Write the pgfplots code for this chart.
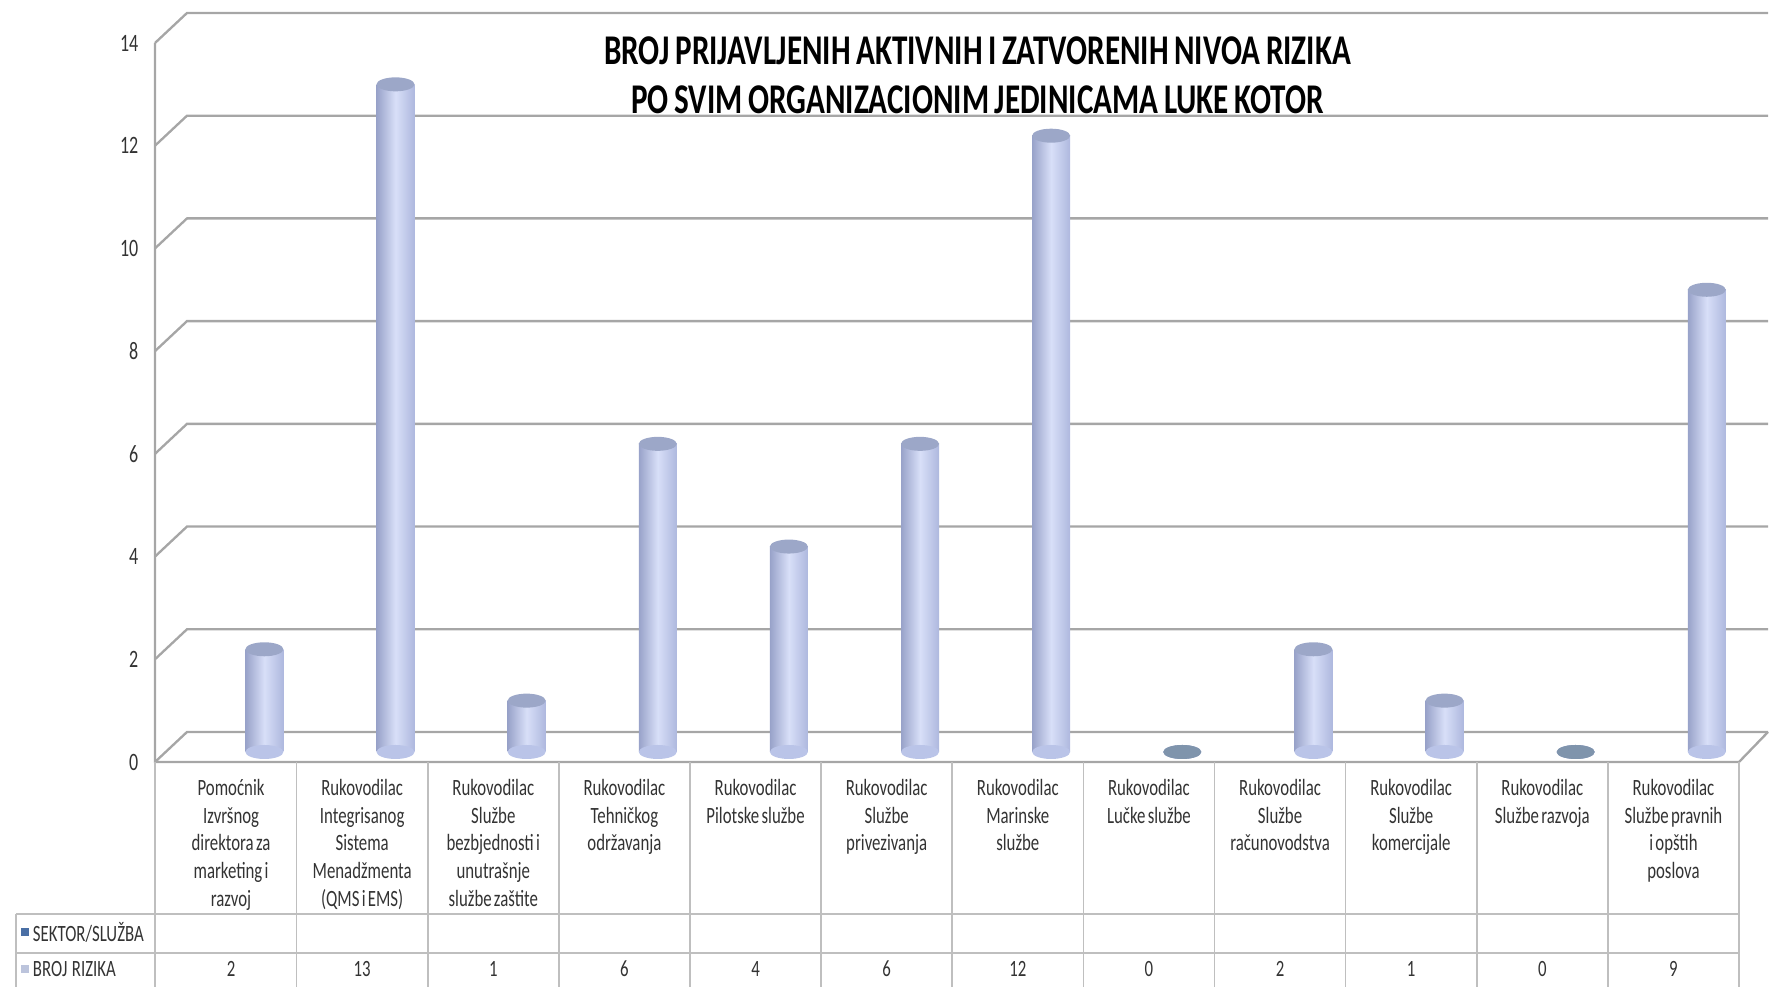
\documentclass[border=0pt]{standalone}
\usepackage{fontspec}
\setmainfont{Carlito}[FakeStretch=0.72, WordSpace=0.6]
\newfontfamily\titlefont{Carlito}[FakeStretch=0.735, WordSpace=0.8]
\usepackage{pgfplots}
\pgfplotsset{compat=1.18}
\usepackage{pgfplotstable}

\definecolor{gridgray}{HTML}{A6A6A6}
\definecolor{tablegray}{HTML}{BFBFBF}
\definecolor{cylleft}{HTML}{98A2C9}
\definecolor{cylmid}{HTML}{D8DFF8}
\definecolor{cylright}{HTML}{AEB8DE}
\definecolor{cyltopc}{HTML}{9CA7C8}
\definecolor{cylbase}{HTML}{BAC4E8}
\definecolor{zerotop}{HTML}{7F94AC}
\definecolor{serdark}{HTML}{4A6FA5}
\definecolor{serlight}{HTML}{BCC4DC}

% cylinder caps
\pgfdeclareplotmark{cyltop}{\pgfpathellipse{\pgfpointorigin}{\pgfqpoint{5.7pt}{0pt}}{\pgfqpoint{0pt}{2.1pt}}\pgfusepathqfill}
\pgfdeclareplotmark{cylbot}{\pgfpathellipse{\pgfpointorigin}{\pgfqpoint{5.7pt}{0pt}}{\pgfqpoint{0pt}{2.1pt}}\pgfusepathqfill}

\pgfplotstableread{
x y
0 2
1 13
2 1
3 6
4 4
5 6
6 12
7 0
8 2
9 1
10 0
11 9
}\rizici

\begin{document}
\begin{tikzpicture}
\begin{axis}[
  scale only axis, width=475.2pt, height=215.7pt,
  xmin=-0.58, xmax=11.5, ymin=0, ymax=14,
  clip=false,
  axis line style={draw=none},
  major tick length=0pt,
  ytick={0,2,...,14},
  xtick={0,...,11},
  xticklabels={
    {Pomoćnik\\Izvršnog\\direktora za\\marketing i\\razvoj},
    {Rukovodilac\\Integrisanog\\Sistema\\Menadžmenta\\(QMS i EMS)},
    {Rukovodilac\\Službe\\bezbjednosti i\\unutrašnje\\službe zaštite},
    {Rukovodilac\\Tehničkog\\održavanja},
    {Rukovodilac\\Pilotske službe},
    {Rukovodilac\\Službe\\privezivanja},
    {Rukovodilac\\Marinske\\službe},
    {Rukovodilac\\Lučke službe},
    {Rukovodilac\\Službe\\računovodstva},
    {Rukovodilac\\Službe\\komercijale},
    {Rukovodilac\\Službe razvoja},
    {Rukovodilac\\Službe pravnih\\i opštih\\poslova}},
  /pgf/number format/assume math mode=true,
  yticklabel style={font=\fontsize{7.5}{8}\selectfont, text=black!80, anchor=east, inner sep=0pt, xshift=-4.8pt},
  xticklabel style={font=\fontsize{7}{8.3}\selectfont, text=black!80, text width=38pt, align=flush center, anchor=north, inner sep=0pt, yshift=-5pt},
  extra x ticks={0,...,11},
  extra x tick labels={2,13,1,6,4,6,12,0,2,1,0,9},
  extra x tick style={xticklabel style={anchor=center, yshift=-57.1pt}},
  every axis plot/.append style={xshift=10pt, yshift=3pt},
]
% back wall and floor
\pgfplotsinvokeforeach{0,2,...,14}{
  \draw[gridgray, line width=0.7pt] (axis cs:-0.58,#1) -- ++(9.6pt,9pt) -- ([xshift=8.7pt,yshift=9pt]axis cs:11.5,#1);
}
\draw[gridgray, line width=0.7pt] (axis cs:-0.58,14) -- (axis cs:-0.58,0) -- (axis cs:11.5,0) -- ++(8.7pt,9pt);

% data table
\pgfplotsinvokeforeach{-0.58,0.5,1.5,...,11.5}{
  \draw[tablegray, line width=0.5pt] (axis cs:#1,0) -- ++(0pt,-67.5pt);
}
\draw[tablegray, line width=0.5pt] ([xshift=-41.7pt,yshift=-45.6pt]axis cs:-0.58,0) -- ([yshift=-45.6pt]axis cs:11.5,0);
\draw[tablegray, line width=0.5pt] ([xshift=-41.7pt,yshift=-57.3pt]axis cs:-0.58,0) -- ([yshift=-57.3pt]axis cs:11.5,0);
\draw[tablegray, line width=0.5pt] ([xshift=-41.7pt,yshift=-45.6pt]axis cs:-0.58,0) -- ++(0pt,-21.9pt);
\fill[serdark] ([xshift=-40.1pt,yshift=-52.1pt]axis cs:-0.58,0) rectangle ++(2.3pt,2.3pt);
\fill[serlight] ([xshift=-40.1pt,yshift=-63.2pt]axis cs:-0.58,0) rectangle ++(2.3pt,2.3pt);
\node[anchor=west, inner sep=0pt, font=\fontsize{7}{8}\selectfont, text=black!80] at ([xshift=-36.8pt,yshift=-51pt]axis cs:-0.58,0) {SEKTOR/SLUŽBA};
\node[anchor=west, inner sep=0pt, font=\fontsize{7}{8}\selectfont, text=black!80] at ([xshift=-36.8pt,yshift=-62.1pt]axis cs:-0.58,0) {BROJ\ \ RIZIKA};

% title
\node[align=center, font=\titlefont\bfseries\fontsize{12.7}{14.6}\selectfont] at ([xshift=246.75pt,yshift=206pt]axis cs:-0.58,0)
  {BROJ PRIJAVLJENIH AKTIVNIH I ZATVORENIH NIVOA RIZIKA\\PO SVIM ORGANIZACIONIM JEDINICAMA LUKE KOTOR};

% cylinders
\addplot[only marks, mark=cylbot, mark options={fill=cylbase}] table[x=x, y expr=0] \rizici;
\pgfplotsinvokeforeach{0,...,11}{
  \addplot[ybar, bar width=11.4pt, bar shift=0pt, draw=none, left color=cylleft, right color=cylright, middle color=cylmid,
    x filter/.expression={x==#1 ? x : nan}] table[x=x, y=y] \rizici;
}
\addplot[only marks, mark=cyltop, mark options={fill=cyltopc}] table[x=x, y=y] \rizici;
\addplot[only marks, mark=cyltop, mark options={fill=zerotop}, y filter/.expression={y==0 ? 0 : nan}] table[x=x, y=y] \rizici;
\end{axis}
\pgfresetboundingbox
\path (-46.5pt,-67.5pt) rectangle (486.3pt,228.6pt);
\end{tikzpicture}
\end{document}
